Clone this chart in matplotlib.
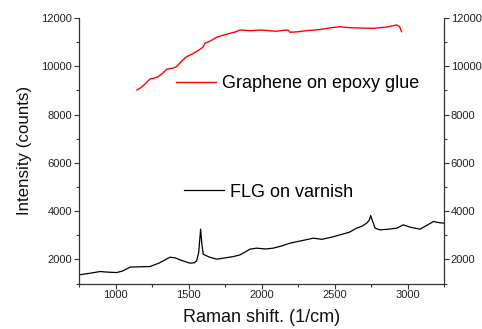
import matplotlib.pyplot as plt
from matplotlib.lines import Line2D
from matplotlib.ticker import MultipleLocator

plt.rcParams['font.family'] = ['Liberation Sans', 'DejaVu Sans']

# Graphene on epoxy glue (red)
shift_red = [1147, 1175, 1200, 1236, 1260, 1290, 1325, 1351, 1390, 1419, 1450, 1487, 1530,
             1579, 1600, 1613, 1650, 1693, 1740, 1784, 1820, 1853, 1921, 2000, 2100,
             2172, 2185, 2195, 2250, 2309, 2400, 2480, 2538, 2600, 2700, 2766, 2850,
             2926, 2945, 2960]
counts_red = [9019, 9120, 9250, 9474, 9500, 9560, 9723, 9876, 9920, 9983, 10200, 10398, 10520,
              10704, 10800, 10952, 11050, 11200, 11290, 11366, 11420, 11503, 11474, 11500, 11450,
              11503, 11480, 11408, 11430, 11474, 11520, 11600, 11640, 11600, 11580, 11573, 11620,
              11710, 11650, 11433]

# FLG on varnish (black)
shift_blk = [750, 820, 894, 950, 1008, 1050, 1099, 1150, 1236, 1300, 1373, 1410, 1442, 1480,
             1510, 1540, 1556, 1570, 1583, 1592, 1601, 1640, 1693, 1750, 1807, 1853,
             1921, 1966, 2030, 2080, 2140, 2195, 2280, 2355, 2413, 2480, 2538, 2600,
             2652, 2690, 2720, 2738, 2748, 2760, 2778, 2812, 2870, 2926, 2971, 3020,
             3086, 3130, 3177, 3220, 3250]
counts_blk = [1358, 1420, 1495, 1470, 1454, 1520, 1677, 1690, 1702, 1850, 2091, 2060, 1980, 1900,
              1843, 1860, 1938, 2300, 3251, 2600, 2213, 2100, 2008, 2060, 2116, 2186,
              2422, 2464, 2430, 2464, 2560, 2671, 2780, 2878, 2830, 2920, 3016, 3120,
              3292, 3380, 3499, 3620, 3814, 3600, 3292, 3222, 3250, 3292, 3430, 3330,
              3251, 3400, 3568, 3520, 3499]

fig = plt.figure(figsize=(4.82, 3.29), dpi=100)
ax = fig.add_axes([79 / 482, 1 - 283.5 / 329, 365 / 482, 265.5 / 329])

ax.plot(shift_red, counts_red, color='#ff0000', lw=1.0)
ax.plot(shift_blk, counts_blk, color='black', lw=0.9)

ax.set_xlim(750, 3250)
ax.set_ylim(1000, 12000)
ax.xaxis.set_major_locator(MultipleLocator(500))
ax.xaxis.set_minor_locator(MultipleLocator(250))
ax.yaxis.set_major_locator(MultipleLocator(2000))
ax.yaxis.set_minor_locator(MultipleLocator(1000))
ax.spines['top'].set_visible(False)
for s in ['left', 'right', 'bottom']:
    ax.spines[s].set_color('#333333')
    ax.spines[s].set_linewidth(0.9)
ax.tick_params(which='both', direction='out', right=True, labelright=True,
               colors='#333333', labelcolor='#222222', width=0.8)
ax.tick_params(which='major', length=3.6, pad=1.2, labelsize=8.0)
ax.tick_params(which='minor', length=2)

ax.set_xlabel('Raman shift. (1/cm)', fontsize=13, color='#111111', labelpad=6)
ax.set_ylabel('Intensity (counts)', fontsize=12.2, color='#111111', labelpad=7)

leg1 = ax.legend([Line2D([], [], color='#ff0000', lw=1.0)], ['Graphene on epoxy glue'],
                 loc='center left', bbox_to_anchor=((176 - 79) / 365, (283.5 - 84) / 265.5),
                 frameon=False, fontsize=13, borderpad=0, borderaxespad=0,
                 handlelength=2.2, handletextpad=0.35)
ax.add_artist(leg1)
ax.legend([Line2D([], [], color='black', lw=0.9)], ['FLG on varnish'],
          loc='center left', bbox_to_anchor=((184 - 79) / 365, (283.5 - 192.3) / 265.5),
          frameon=False, fontsize=13, borderpad=0, borderaxespad=0,
          handlelength=2.2, handletextpad=0.35)

fig.savefig('out.png', dpi=100)
